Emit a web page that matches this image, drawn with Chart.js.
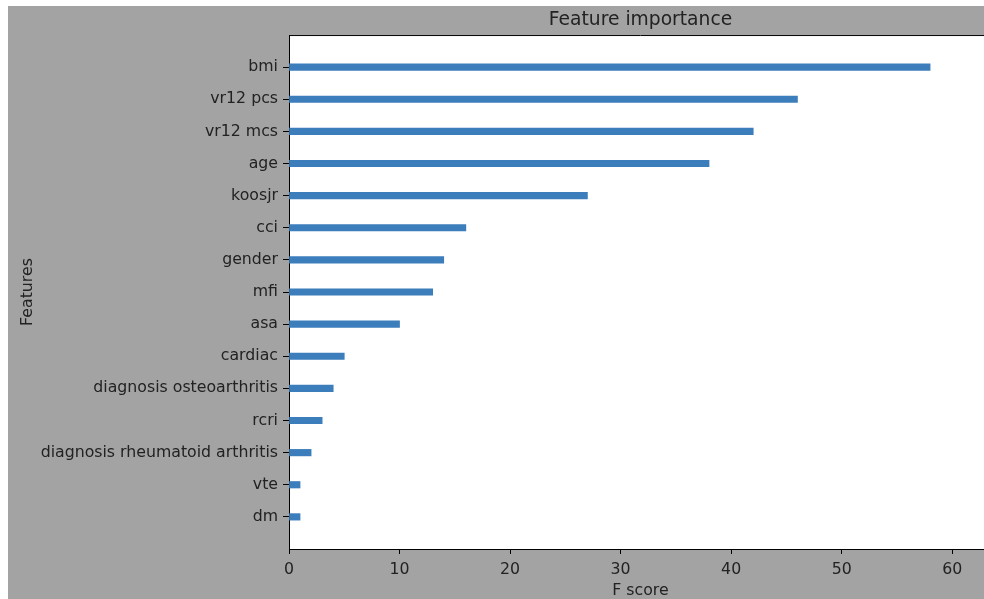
<!DOCTYPE html>
<html>
<head>
<meta charset="utf-8">
<script src="https://cdn.jsdelivr.net/npm/chart.js@4/dist/chart.umd.min.js"></script>
<style>
  html, body { margin: 0; padding: 0; background: #fff; overflow: hidden; width: 984px; height: 599px; }
  #wrap { position: absolute; left: 8px; top: 6px; width: 984px; height: 593px; }
</style>
</head>
<body>
<div id="wrap"><canvas id="chart" width="984" height="593"></canvas></div>
<script>
// Feature importance (F score), top to bottom as in the figure
const features = [
  "bmi", "vr12 pcs", "vr12 mcs", "age", "koosjr", "cci", "gender", "mfi",
  "asa", "cardiac", "diagnosis osteoarthritis", "rcri",
  "diagnosis rheumatoid arthritis", "vte", "dm"
];
const fScores = [58, 46, 42, 38, 27, 16, 14, 13, 10, 5, 4, 3, 2, 1, 1];
const xTicks = [0, 10, 20, 30, 40, 50, 60];

// empty slots at both ends give matplotlib's half-step padding
const labels = ["", ...features, ""];
const values = [null, ...fScores, null];

const font = { family: "'DejaVu Sans', sans-serif", size: 15.75 };
const ink = "#222";

const plotFrame = {
  id: "plotFrame",
  beforeDraw(chart) {
    const { ctx, chartArea: a } = chart;
    ctx.save();
    ctx.fillStyle = "#a3a3a3";
    ctx.fillRect(0, 0, chart.width, chart.height);
    ctx.fillStyle = "#fff";
    ctx.fillRect(a.left, a.top, a.right - a.left, a.bottom - a.top);
    ctx.restore();
  },
  afterDraw(chart) {
    const { ctx, chartArea: a } = chart;
    ctx.save();
    ctx.strokeStyle = "#000";
    ctx.lineWidth = 1;
    ctx.beginPath();
    ctx.moveTo(a.left, a.top + 0.5);
    ctx.lineTo(a.right, a.top + 0.5);
    ctx.stroke();
    ctx.restore();
  }
};

new Chart(document.getElementById("chart"), {
  type: "bar",
  data: {
    labels: labels,
    datasets: [{
      data: values,
      backgroundColor: "#3c7dbb",
      borderWidth: 0,
      barThickness: 6.5
    }]
  },
  options: {
    indexAxis: "y",
    responsive: false,
    animation: false,
    layout: { padding: 0 },
    plugins: {
      legend: { display: false },
      tooltip: { enabled: false },
      title: {
        display: true,
        text: "Feature importance",
        fullSize: false,
        color: ink,
        font: { family: font.family, size: 18.7, weight: "normal" },
        padding: { top: 2.9, bottom: 3.7 }
      }
    },
    scales: {
      x: {
        type: "linear",
        min: 0,
        max: 63.6,
        afterFit(scale) { scale.height = 50; },
        afterBuildTicks(scale) {
          scale.ticks = xTicks.map(v => ({ value: v }));
        },
        ticks: { color: ink, font: font, padding: 6, includeBounds: false },
        grid: { drawOnChartArea: false, tickLength: 5, tickColor: "#000" },
        border: { color: "#000", width: 1 },
        title: {
          display: true,
          text: "F score",
          color: ink,
          font: font,
          padding: { top: -1.5, bottom: -1.5 }
        }
      },
      y: {
        offset: false,
        afterFit(scale) { scale.width = 281; },
        ticks: { color: ink, font: font, padding: 5, autoSkip: false },
        grid: {
          offset: false,
          drawOnChartArea: false,
          tickLength: 6,
          tickColor: (c) => (c.index === 0 || c.index === labels.length - 1) ? "rgba(0,0,0,0)" : "#000"
        },
        border: { color: "#000", width: 1 },
        title: {
          display: true,
          text: "Features",
          color: ink,
          font: font,
          padding: { top: 10.5, bottom: 4 }
        }
      }
    }
  },
  plugins: [plotFrame]
});
</script>
</body>
</html>
